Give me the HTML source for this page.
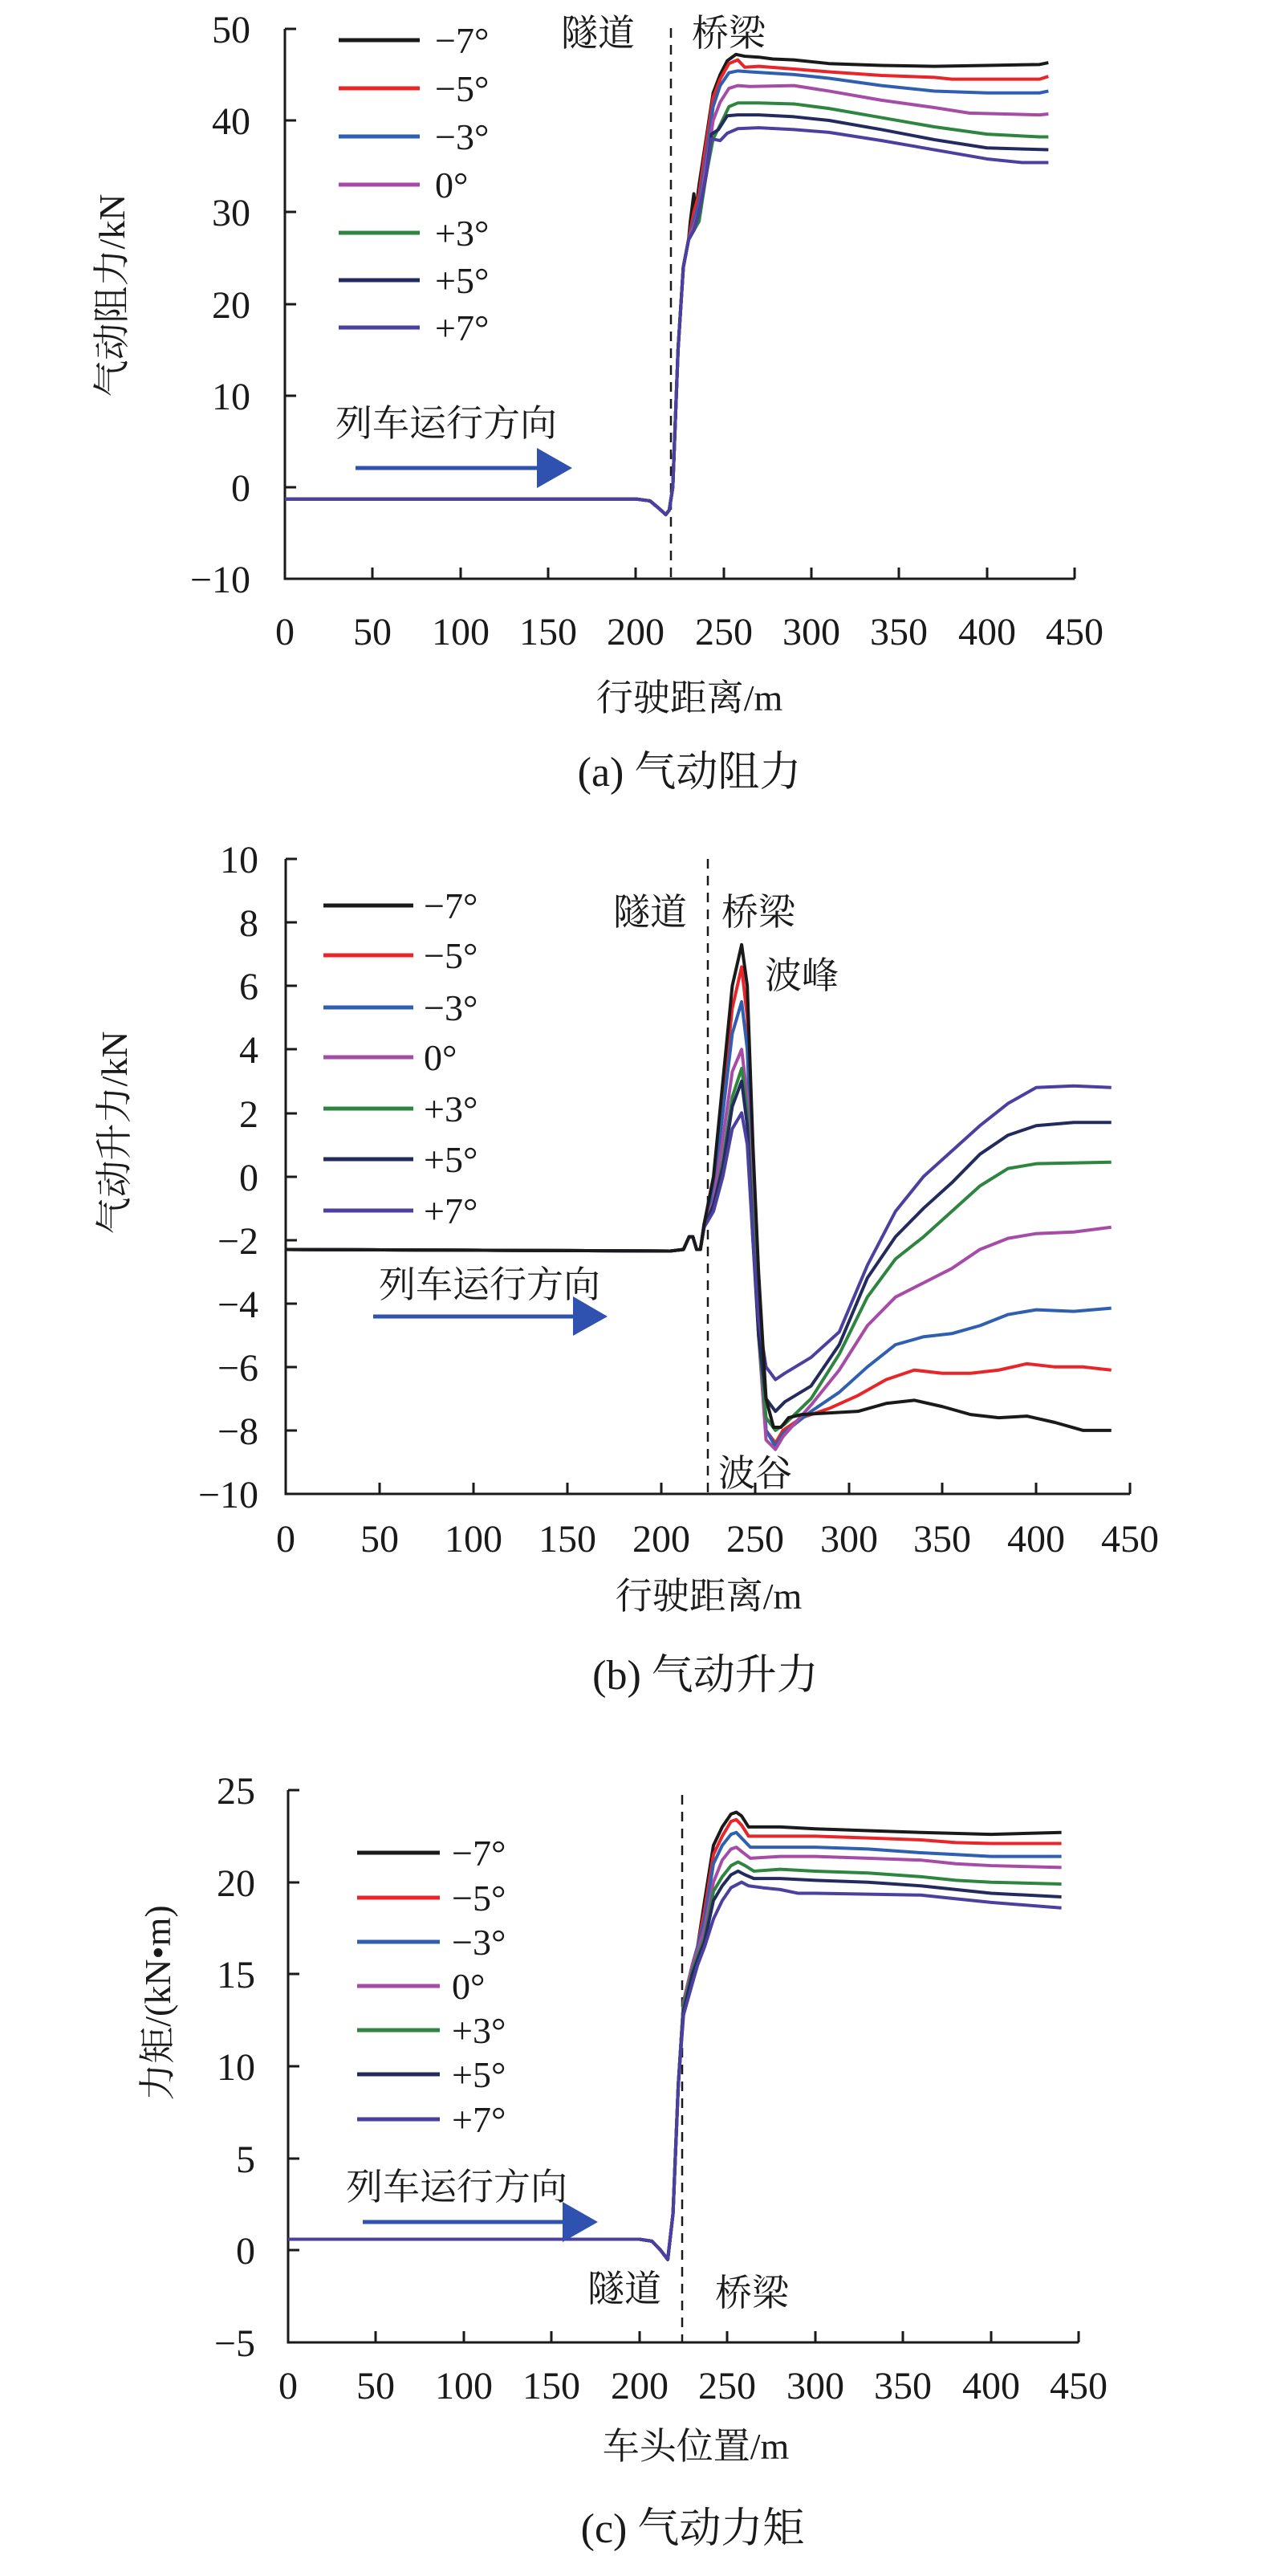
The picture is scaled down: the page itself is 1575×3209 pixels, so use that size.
<!DOCTYPE html>
<html><head><meta charset="utf-8"><style>
html,body{margin:0;padding:0;background:#fff;}
svg{display:block;}
text{font-family:"Liberation Serif","Noto Serif CJK SC","Noto Sans CJK SC",serif;fill:#1a1a1a;}
.tk{font-size:48px;}
.lg{font-size:46px;}
.an{font-size:46px;}
.ti{font-size:52px;}
polyline{fill:none;stroke-width:4;vector-effect:non-scaling-stroke;stroke-linejoin:round;}
.k{stroke:#1a1a1a}.r{stroke:#e8262a}.b{stroke:#2f5fb0}.m{stroke:#a64ca6}.g{stroke:#2e8540}.n{stroke:#232b5e}.p{stroke:#4b3fa0}
.ax{stroke:#1a1a1a;stroke-width:3;fill:none}
.ds{stroke:#1a1a1a;stroke-width:2.5;stroke-dasharray:12,9}
</style></head><body>
<svg width="1575" height="3209" viewBox="0 0 1575 3209" xmlns="http://www.w3.org/2000/svg">

<!-- ============ Panel A ============ -->
<g>
<path class="ax" d="M355,36 V721 H1339"/>
<path class="ax" d="M355,36 h14 M355,150 h14 M355,264 h14 M355,379 h14 M355,493 h14 M355,607 h14"/>
<path class="ax" d="M464,721 v-14 M574,721 v-14 M683,721 v-14 M792,721 v-14 M902,721 v-14 M1011,721 v-14 M1120,721 v-14 M1230,721 v-14 M1339,721 v-14"/>
<g class="tk" text-anchor="end">
<text x="312" y="53">50</text><text x="312" y="167">40</text><text x="312" y="281">30</text>
<text x="312" y="396">20</text><text x="312" y="510">10</text><text x="312" y="624">0</text><text x="312" y="738">−10</text>
</g>
<g class="tk" text-anchor="middle">
<text x="355" y="803">0</text><text x="464" y="803">50</text><text x="574" y="803">100</text><text x="683" y="803">150</text><text x="792" y="803">200</text><text x="902" y="803">250</text><text x="1011" y="803">300</text><text x="1120" y="803">350</text><text x="1230" y="803">400</text><text x="1339" y="803">450</text>
</g>
<line class="ds" x1="836" y1="35" x2="836" y2="721"/>
<g transform="translate(355,606.8) scale(2.187,-11.42)">
<polyline class="k" points="0,-1.3 200,-1.3 208,-1.5 213,-2.3 217,-3.0 219,-2.5 221,0 224,15 227,24 230,27 231,29 233,32 234,30 236,33 240,38 244,43 248,45 252,46.5 257,47.2 262,47 270,46.9 278,46.7 290,46.6 310,46.2 340,46 370,45.9 400,46 430,46.1 435,46.3"/>
<polyline class="r" points="0,-1.3 200,-1.3 208,-1.5 213,-2.3 217,-3.0 219,-2.5 221,0 224,15 227,24 230,27 233,30 236,32 240,37.5 244,42.5 248,44.5 253,46.2 258,46.6 262,45.8 270,45.9 290,45.6 310,45.3 340,44.9 370,44.7 380,44.5 400,44.5 430,44.5 435,44.8"/>
<polyline class="b" points="0,-1.3 200,-1.3 208,-1.5 213,-2.3 217,-3.0 219,-2.5 221,0 224,15 227,24 230,27 233,29 236,31 240,36 244,41.5 248,43.8 253,45.2 258,45.4 265,45.3 290,45 310,44.6 340,43.8 370,43.2 400,43 430,43 435,43.2"/>
<polyline class="m" points="0,-1.3 200,-1.3 208,-1.5 213,-2.3 217,-3.0 219,-2.5 221,0 224,15 227,24 230,27 233,28.5 236,30 240,35 244,40 248,42 253,43.5 258,43.8 265,43.7 290,43.8 310,43.2 340,42.2 370,41.4 390,40.8 430,40.6 435,40.7"/>
<polyline class="g" points="0,-1.3 200,-1.3 208,-1.5 213,-2.3 217,-3.0 219,-2.5 221,0 224,15 227,24 230,27 233,28 236,29 240,34 244,38 248,39.5 253,41.5 258,41.9 270,41.9 290,41.8 310,41.3 340,40.3 370,39.3 400,38.5 430,38.2 435,38.2"/>
<polyline class="n" points="0,-1.3 200,-1.3 208,-1.5 213,-2.3 217,-3.0 219,-2.5 221,0 224,15 227,24 230,27 233,28 236,30 240,34 243,38.5 247,39 252,40.5 258,40.6 270,40.6 290,40.4 310,40 340,39 370,37.9 400,37 435,36.8"/>
<polyline class="p" points="0,-1.3 200,-1.3 208,-1.5 213,-2.3 217,-3.0 219,-2.5 221,0 224,15 227,24 230,27 233,28 236,30 240,34 243,38 248,37.8 252,38.6 258,39.1 270,39.2 290,39 310,38.7 340,37.8 370,36.8 400,35.8 420,35.4 435,35.4"/>
</g>
<g stroke-width="5">
<line x1="422" y1="50" x2="523" y2="50" stroke="#1a1a1a"/><line x1="422" y1="110" x2="523" y2="110" stroke="#e8262a"/>
<line x1="422" y1="170" x2="523" y2="170" stroke="#2f5fb0"/><line x1="422" y1="230" x2="523" y2="230" stroke="#a64ca6"/>
<line x1="422" y1="290" x2="523" y2="290" stroke="#2e8540"/><line x1="422" y1="349" x2="523" y2="349" stroke="#232b5e"/>
<line x1="422" y1="408" x2="523" y2="408" stroke="#4b3fa0"/>
</g>
<g class="lg">
<text x="542" y="66">−7°</text><text x="542" y="126">−5°</text><text x="542" y="186">−3°</text><text x="542" y="246">0°</text>
<text x="542" y="306">+3°</text><text x="542" y="365">+5°</text><text x="542" y="424">+7°</text>
</g>
<text class="an" x="699" y="57">隧道</text><text class="an" x="862" y="57">桥梁</text>
<text class="an" x="418" y="543">列车运行方向</text>
<line x1="443" y1="583" x2="672" y2="583" stroke="#2f52b0" stroke-width="5"/>
<polygon points="669,558 713,583 669,608" fill="#2f52b0"/>
<text class="an" transform="translate(155,368) rotate(-90)" text-anchor="middle">气动阻力/kN</text>
<text class="an" x="859" y="885" text-anchor="middle">行驶距离/m</text>
<text class="ti" x="859" y="979" text-anchor="middle">(a) 气动阻力</text>
</g>

<!-- ============ Panel B ============ -->
<g>
<path class="ax" d="M356,1070 V1861 H1408"/>
<path class="ax" d="M356,1070 h14 M356,1149 h14 M356,1228 h14 M356,1307 h14 M356,1387 h14 M356,1466 h14 M356,1545 h14 M356,1624 h14 M356,1703 h14 M356,1782 h14"/>
<path class="ax" d="M473,1861 v-14 M590,1861 v-14 M707,1861 v-14 M824,1861 v-14 M941,1861 v-14 M1058,1861 v-14 M1174,1861 v-14 M1291,1861 v-14 M1408,1861 v-14"/>
<g class="tk" text-anchor="end">
<text x="322" y="1087">10</text><text x="322" y="1166">8</text><text x="322" y="1245">6</text><text x="322" y="1324">4</text><text x="322" y="1404">2</text>
<text x="322" y="1483">0</text><text x="322" y="1562">−2</text><text x="322" y="1641">−4</text><text x="322" y="1720">−6</text><text x="322" y="1799">−8</text><text x="322" y="1878">−10</text>
</g>
<g class="tk" text-anchor="middle">
<text x="356" y="1933">0</text><text x="473" y="1933">50</text><text x="590" y="1933">100</text><text x="707" y="1933">150</text><text x="824" y="1933">200</text><text x="941" y="1933">250</text><text x="1058" y="1933">300</text><text x="1174" y="1933">350</text><text x="1291" y="1933">400</text><text x="1408" y="1933">450</text>
</g>
<line class="ds" x1="882" y1="1070" x2="882" y2="1861"/>
<g transform="translate(356,1465.5) scale(2.338,-39.55)">
<polyline class="r" points="0,-2.3 205,-2.35 212,-2.3 215,-1.9 217,-1.9 219,-2.3 221,-2.3 223,-1.5 228,-0.2 233,2.5 238,5.3 243,6.6 246,5 249,0 252,-4 256,-8 261,-8.4 265,-8 275,-7.6 290,-7.3 305,-6.9 320,-6.4 335,-6.1 350,-6.2 365,-6.2 380,-6.1 395,-5.9 410,-6.0 425,-6.0 440,-6.1"/>
<polyline class="b" points="0,-2.3 205,-2.35 212,-2.3 215,-1.9 217,-1.9 219,-2.3 221,-2.3 223,-1.5 228,-0.5 233,2 238,4.5 243,5.5 246,4 249,-0.5 252,-4.5 256,-8 261,-8.5 265,-8.1 280,-7.4 295,-6.8 310,-6.0 325,-5.3 340,-5.05 355,-4.95 370,-4.7 385,-4.35 400,-4.2 420,-4.25 440,-4.15"/>
<polyline class="m" points="0,-2.3 205,-2.35 212,-2.3 215,-1.9 217,-1.9 219,-2.3 221,-2.3 223,-1.5 228,-0.8 233,1.2 238,3.3 243,4 246,2.5 249,-1 252,-5 256,-8.3 261,-8.6 265,-8.2 280,-7.2 295,-6.1 310,-4.7 325,-3.8 340,-3.35 355,-2.9 370,-2.3 385,-1.95 400,-1.8 420,-1.75 440,-1.6"/>
<polyline class="g" points="0,-2.3 205,-2.35 212,-2.3 215,-1.9 217,-1.9 219,-2.3 221,-2.3 223,-1.6 228,-1 233,0.5 238,2.5 243,3.4 246,2 249,-1.5 252,-5 256,-7.6 261,-8.0 266,-7.8 280,-7 295,-5.6 310,-3.8 325,-2.6 340,-1.9 355,-1.1 370,-0.3 385,0.25 400,0.4 440,0.45"/>
<polyline class="n" points="0,-2.3 205,-2.35 212,-2.3 215,-1.9 217,-1.9 219,-2.3 221,-2.3 223,-1.6 228,-0.9 233,0.3 238,2.2 243,3 246,1.6 249,-2 252,-5 256,-7 261,-7.4 266,-7.1 280,-6.6 295,-5.3 310,-3.2 325,-1.9 340,-1.0 355,-0.2 370,0.7 385,1.3 400,1.6 420,1.7 440,1.7"/>
<polyline class="p" points="0,-2.3 205,-2.35 212,-2.3 215,-1.9 217,-1.9 219,-2.3 221,-2.3 223,-1.6 228,-1.1 233,0 238,1.5 243,2 246,1 249,-2 252,-4.5 256,-6 261,-6.4 266,-6.2 280,-5.7 295,-4.9 310,-2.8 325,-1.1 340,0.0 355,0.8 370,1.6 385,2.3 400,2.8 420,2.85 440,2.8"/>
<polyline class="k" points="0,-2.3 205,-2.35 212,-2.3 215,-1.9 217,-1.9 219,-2.3 221,-2.3 223,-1.5 228,0 233,3 238,6 243,7.3 246,6 249,1 252,-3 256,-7 260,-7.9 264,-7.9 268,-7.6 275,-7.5 290,-7.45 305,-7.4 320,-7.15 335,-7.05 350,-7.25 365,-7.5 380,-7.6 395,-7.55 410,-7.75 425,-8.0 440,-8.0"/>
</g>
<g stroke-width="5">
<line x1="403" y1="1128" x2="515" y2="1128" stroke="#1a1a1a"/><line x1="403" y1="1190" x2="515" y2="1190" stroke="#e8262a"/>
<line x1="403" y1="1255" x2="515" y2="1255" stroke="#2f5fb0"/><line x1="403" y1="1317" x2="515" y2="1317" stroke="#a64ca6"/>
<line x1="403" y1="1381" x2="515" y2="1381" stroke="#2e8540"/><line x1="403" y1="1444" x2="515" y2="1444" stroke="#232b5e"/>
<line x1="403" y1="1508" x2="515" y2="1508" stroke="#4b3fa0"/>
</g>
<g class="lg">
<text x="528" y="1144">−7°</text><text x="528" y="1206">−5°</text><text x="528" y="1271">−3°</text><text x="528" y="1333">0°</text>
<text x="528" y="1397">+3°</text><text x="528" y="1460">+5°</text><text x="528" y="1524">+7°</text>
</g>
<text class="an" x="764" y="1152">隧道</text><text class="an" x="899" y="1152">桥梁</text>
<text class="an" x="953" y="1231">波峰</text><text class="an" x="895" y="1851">波谷</text>
<text class="an" x="472" y="1616">列车运行方向</text>
<line x1="465" y1="1640" x2="716" y2="1640" stroke="#2f52b0" stroke-width="5"/>
<polygon points="714,1615 757,1640 714,1664" fill="#2f52b0"/>
<text class="an" transform="translate(158,1411) rotate(-90)" text-anchor="middle">气动升力/kN</text>
<text class="an" x="883" y="2004" text-anchor="middle">行驶距离/m</text>
<text class="ti" x="879" y="2104" text-anchor="middle">(b) 气动升力</text>
</g>

<!-- ============ Panel C ============ -->
<g>
<path class="ax" d="M359,2230 V2918 H1344"/>
<path class="ax" d="M359,2230 h14 M359,2345 h14 M359,2459 h14 M359,2574 h14 M359,2689 h14 M359,2803 h14"/>
<path class="ax" d="M468,2918 v-14 M578,2918 v-14 M687,2918 v-14 M797,2918 v-14 M906,2918 v-14 M1016,2918 v-14 M1125,2918 v-14 M1235,2918 v-14 M1344,2918 v-14"/>
<g class="tk" text-anchor="end">
<text x="318" y="2247">25</text><text x="318" y="2362">20</text><text x="318" y="2476">15</text>
<text x="318" y="2591">10</text><text x="318" y="2706">5</text><text x="318" y="2820">0</text><text x="318" y="2935">−5</text>
</g>
<g class="tk" text-anchor="middle">
<text x="359" y="2988">0</text><text x="468" y="2988">50</text><text x="578" y="2988">100</text><text x="687" y="2988">150</text><text x="797" y="2988">200</text><text x="906" y="2988">250</text><text x="1016" y="2988">300</text><text x="1125" y="2988">350</text><text x="1235" y="2988">400</text><text x="1344" y="2988">450</text>
</g>
<line class="ds" x1="850" y1="2236" x2="850" y2="2918"/>
<g transform="translate(359,2803.3) scale(2.19,-22.93)">
<polyline class="k" points="0,0.6 200,0.6 207,0.5 212,0 216,-0.5 219,2 222,9 225,13.5 230,15.5 233,16.5 237,19 242,22 247,23 252,23.7 255,23.8 258,23.6 262,23 270,23 280,23 300,22.9 330,22.8 360,22.7 400,22.6 440,22.7"/>
<polyline class="r" points="0,0.6 200,0.6 207,0.5 212,0 216,-0.5 219,2 222,9 225,13.5 230,15.5 233,16.5 237,18.5 242,21.5 247,22.5 252,23.3 255,23.4 258,23.1 262,22.5 270,22.5 300,22.5 330,22.4 360,22.3 380,22.15 400,22.1 440,22.1"/>
<polyline class="b" points="0,0.6 200,0.6 207,0.5 212,0 216,-0.5 219,2 222,9 225,13.5 230,15.5 233,16.5 237,18 242,21 247,22 252,22.6 255,22.7 259,22.3 263,21.9 280,21.9 300,21.9 330,21.8 360,21.6 380,21.5 400,21.4 440,21.4"/>
<polyline class="m" points="0,0.6 200,0.6 207,0.5 212,0 216,-0.5 219,2 222,9 225,13.5 230,15.5 233,16.3 237,17.5 242,20 247,21.2 252,21.8 255,21.9 259,21.6 263,21.3 280,21.4 300,21.4 330,21.3 360,21.2 380,21 400,20.9 440,20.8"/>
<polyline class="g" points="0,0.6 200,0.6 207,0.5 212,0 216,-0.5 219,2 222,9 225,13.3 230,15.2 233,16 237,17 242,19.5 247,20.3 252,20.9 256,21.1 260,20.9 265,20.6 280,20.7 300,20.6 330,20.5 360,20.3 380,20.1 400,20 440,19.9"/>
<polyline class="n" points="0,0.6 200,0.6 207,0.5 212,0 216,-0.5 219,2 222,9 225,13 230,15 233,15.8 237,16.8 242,19 247,19.8 252,20.4 256,20.6 260,20.4 265,20.2 280,20.2 300,20.1 330,20 360,19.8 380,19.6 400,19.4 440,19.2"/>
<polyline class="p" points="0,0.6 200,0.6 207,0.5 212,0 216,-0.5 219,2 222,9 225,12.8 230,14.5 233,15.5 237,16.5 242,18 247,19 252,19.7 258,20 262,19.8 270,19.7 280,19.6 290,19.4 300,19.4 330,19.35 360,19.3 380,19.1 400,18.9 440,18.6"/>
</g>
<g stroke-width="5">
<line x1="445" y1="2308" x2="548" y2="2308" stroke="#1a1a1a"/><line x1="445" y1="2364" x2="548" y2="2364" stroke="#e8262a"/>
<line x1="445" y1="2419" x2="548" y2="2419" stroke="#2f5fb0"/><line x1="445" y1="2474" x2="548" y2="2474" stroke="#a64ca6"/>
<line x1="445" y1="2529" x2="548" y2="2529" stroke="#2e8540"/><line x1="445" y1="2584" x2="548" y2="2584" stroke="#232b5e"/>
<line x1="445" y1="2640" x2="548" y2="2640" stroke="#4b3fa0"/>
</g>
<g class="lg">
<text x="563" y="2324">−7°</text><text x="563" y="2380">−5°</text><text x="563" y="2435">−3°</text><text x="563" y="2490">0°</text>
<text x="563" y="2545">+3°</text><text x="563" y="2600">+5°</text><text x="563" y="2656">+7°</text>
</g>
<text class="an" x="431" y="2740">列车运行方向</text>
<line x1="452" y1="2768" x2="703" y2="2768" stroke="#2f52b0" stroke-width="5"/>
<polygon points="701,2743 745,2768 701,2793" fill="#2f52b0"/>
<text class="an" x="732" y="2867">隧道</text><text class="an" x="891" y="2872">桥梁</text>
<text class="an" transform="translate(212,2495) rotate(-90)" text-anchor="middle">力矩/(kN•m)</text>
<text class="an" x="867" y="3063" text-anchor="middle">车头位置/m</text>
<text class="ti" x="863" y="3167" text-anchor="middle">(c) 气动力矩</text>
</g>
</svg>
</body></html>
